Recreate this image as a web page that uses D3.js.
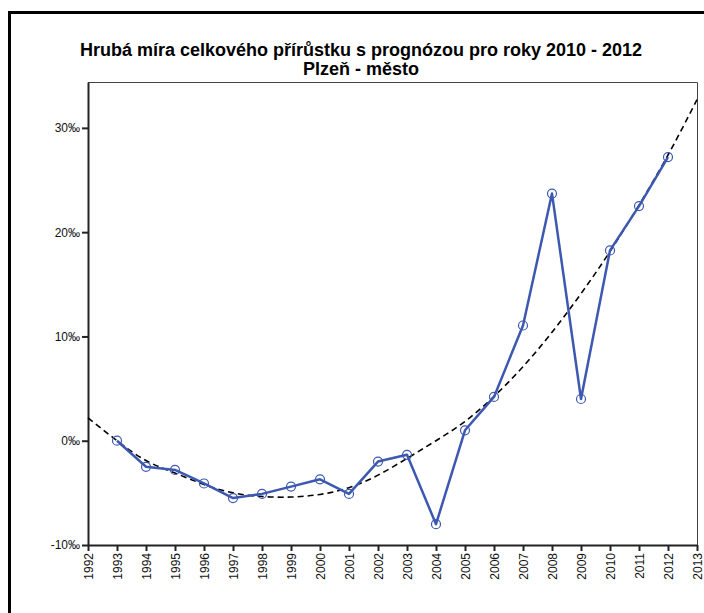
<!DOCTYPE html>
<html>
<head>
<meta charset="utf-8">
<script src="https://cdn.jsdelivr.net/npm/d3@7"></script>
<style>
  html, body { margin: 0; padding: 0; background: #fff; }
  svg { display: block; }
  text { font-family: "Liberation Sans", Arial, sans-serif; }
</style>
</head>
<body>
<svg id="chart" width="704" height="613"></svg>
<script>
// Years shown on the x axis
const years = d3.range(1992, 2014);
// Observed rate (‰) per year, 1993–2012
const obsYears = [1993,1994,1995,1996,1997,1998,1999,2000,2001,2002,2003,2004,2005,2006,2007,2008,2009,2010,2011,2012];
const obsValues = [0.0,-2.5,-2.8,-4.1,-5.5,-5.1,-4.4,-3.7,-5.1,-2.0,-1.35,-8.0,1.0,4.2,11.05,23.7,4.0,18.25,22.5,27.2];
// Trend curve (‰), 1992–2013
const trendValues = [2.2,0.0,-1.9,-3.1,-4.2,-5.0,-5.35,-5.4,-5.15,-4.5,-3.3,-1.7,0.0,1.85,4.25,7.1,10.4,14.1,18.15,22.6,27.4,32.7];
// Y tick values and labels
const yTicks = [-10, 0, 10, 20, 30];
const yTickLabels = ["-10‰", "0‰", "10‰", "20‰", "30‰"];
const titleLines = ["Hrubá míra celkového přírůstku s prognózou pro roky 2010 - 2012", "Plzeň - město"];

const svg = d3.select("#chart");

// outer frame
svg.append("rect")
  .attr("x", 9.5).attr("y", 12.5)
  .attr("width", 720).attr("height", 640)
  .attr("fill", "none").attr("stroke", "#000").attr("stroke-width", 3);

const plot = { left: 88, top: 82, right: 697, bottom: 545 };

const x = d3.scaleLinear().domain([1992, 2013]).range([plot.left, plot.right]);
const y = d3.scaleLinear().domain([-10, 34.4]).range([plot.bottom, plot.top]);

// title
svg.append("text")
  .attr("x", 361).attr("y", 56)
  .attr("text-anchor", "middle")
  .attr("font-size", 18).attr("font-weight", "bold")
  .text(titleLines[0]);
svg.append("text")
  .attr("x", 361).attr("y", 75)
  .attr("text-anchor", "middle")
  .attr("font-size", 18).attr("font-weight", "bold")
  .text(titleLines[1]);

// plot frame (top and right)
svg.append("path")
  .attr("d", `M${plot.left},${plot.top + 0.5}H${plot.right + 0.5}V${plot.bottom}`)
  .attr("fill", "none").attr("stroke", "#444").attr("stroke-width", 1);

// y axis
const yAxis = d3.axisLeft(y)
  .tickValues(yTicks)
  .tickFormat((d, i) => yTickLabels[i])
  .tickSize(6).tickSizeOuter(0).tickPadding(2);
const gy = svg.append("g").attr("transform", `translate(${plot.left},0)`).call(yAxis);
gy.select(".domain").attr("stroke", "#222").attr("stroke-width", 2);
gy.selectAll(".tick line").attr("stroke", "#222").attr("stroke-width", 2);
gy.selectAll(".tick text").attr("font-size", 12).attr("fill", "#111")
  .attr("font-family", "'Liberation Sans', Arial, sans-serif");

// x axis
const xAxis = d3.axisBottom(x)
  .tickValues(years)
  .tickFormat(d3.format("d"))
  .tickSize(6).tickSizeOuter(0);
const gx = svg.append("g").attr("transform", `translate(0,${plot.bottom})`).call(xAxis);
gx.select(".domain").attr("stroke", "#222").attr("stroke-width", 2);
gx.selectAll(".tick line").attr("stroke", "#222").attr("stroke-width", 2);
gx.selectAll(".tick text")
  .attr("font-size", 12).attr("fill", "#111")
  .attr("font-family", "'Liberation Sans', Arial, sans-serif")
  .attr("transform", "rotate(-90)")
  .attr("text-anchor", "end")
  .attr("x", -8).attr("y", 0).attr("dy", "0.35em");

// trend curve
const trendLine = d3.line()
  .x((d, i) => x(years[i]))
  .y(d => y(d))
  .curve(d3.curveNatural);
svg.append("path")
  .datum(trendValues)
  .attr("d", trendLine)
  .attr("fill", "none")
  .attr("stroke", "#000")
  .attr("stroke-width", 1.6)
  .attr("stroke-dasharray", "6,4");

// observed series
const obsLine = d3.line()
  .x((d, i) => x(obsYears[i]))
  .y(d => y(d));
svg.append("path")
  .datum(obsValues)
  .attr("d", obsLine)
  .attr("fill", "none")
  .attr("stroke", "#3d58b0")
  .attr("stroke-width", 2.5)
  .attr("stroke-linejoin", "round");

svg.append("g").selectAll("circle")
  .data(obsValues)
  .join("circle")
  .attr("cx", (d, i) => x(obsYears[i]))
  .attr("cy", d => y(d))
  .attr("r", 4.5)
  .attr("fill", "none")
  .attr("stroke", "#3d58b0")
  .attr("stroke-width", 1.2);
</script>
</body>
</html>
